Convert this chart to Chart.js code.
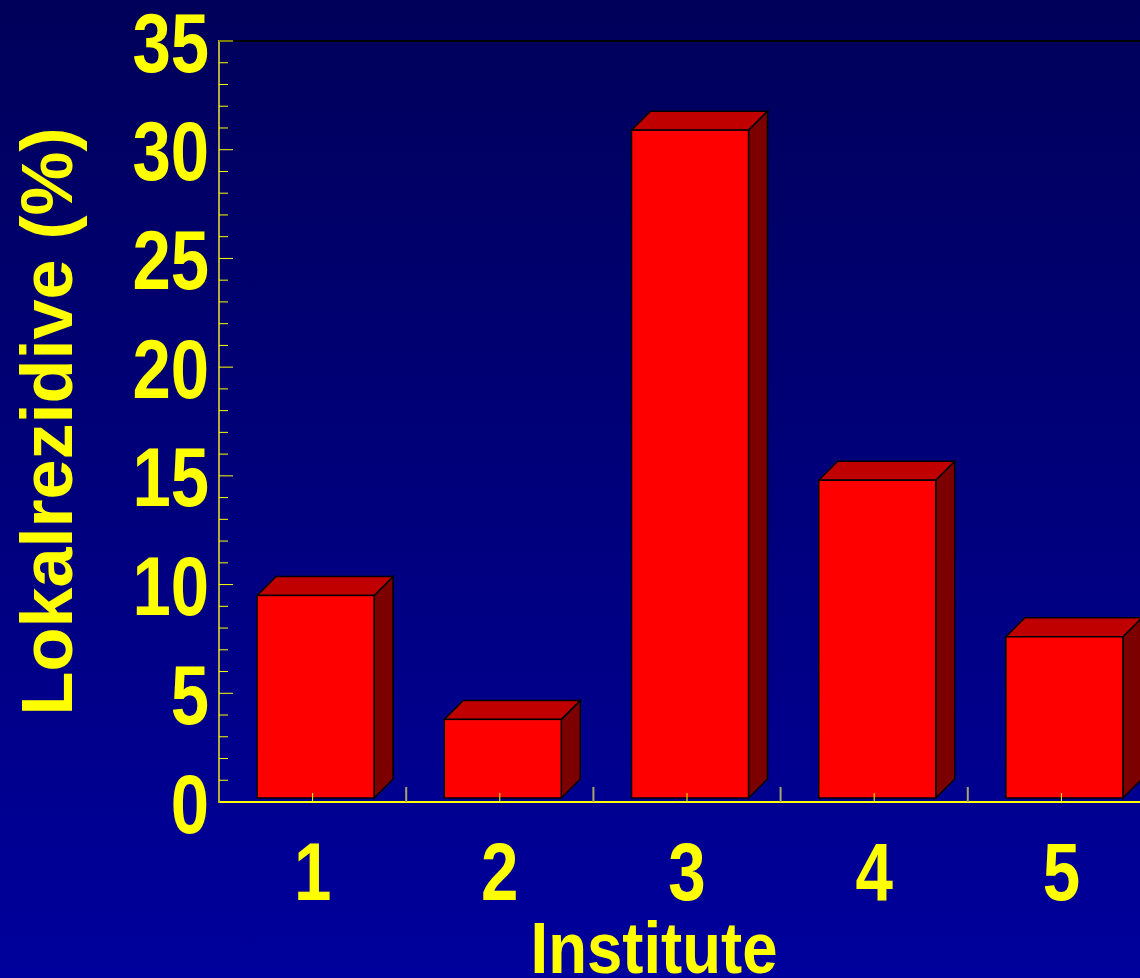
<!DOCTYPE html>
<html>
<head>
<meta charset="utf-8">
<script src="https://cdn.jsdelivr.net/npm/chart.js@4.4.1/dist/chart.umd.min.js"></script>
<style>
  html, body {
    margin: 0; padding: 0;
    width: 1140px; height: 978px; overflow: hidden;
    background: linear-gradient(to bottom, #00005a 0%, #00009c 100%);
  }
  #wrap { width: 1160px; height: 978px; }
</style>
</head>
<body>
<div id="wrap"><canvas id="chart" width="1160" height="978"></canvas></div>
<script>
// Local recurrence rate per institute
const categories = ['1', '2', '3', '4', '5'];
const recurrenceRates = [9.5, 3.8, 30.9, 14.8, 7.6];
const yTickValues = [0, 5, 10, 15, 20, 25, 30, 35];
const xAxisTitle = 'Institute';
const yAxisTitle = 'Lokalrezidive (%)';

const YELLOW = '#ffff00';
const FONT = '"Liberation Sans", Arial, Helvetica, sans-serif';

// Bold text squeezed horizontally (narrow sans look)
function condensedText(ctx, text, x, y, sx, align, size) {
  ctx.save();
  ctx.translate(x, y);
  ctx.scale(sx, 1);
  ctx.font = 'bold ' + size + 'px ' + FONT;
  ctx.textAlign = align;
  ctx.textBaseline = 'alphabetic';
  ctx.fillText(text, 0, 0);
  ctx.restore();
}

// Draws each bar as a box: front face, bevelled top and shaded right side
const bar3d = {
  id: 'bar3d',
  afterDatasetsDraw(chart, args, opts) {
    const ctx = chart.ctx;
    const meta = chart.getDatasetMeta(0);
    const d = opts.depth;
    meta.data.forEach(el => {
      const { x, y, base, width } = el.getProps(['x', 'y', 'base', 'width'], true);
      const l = x - width / 2 + opts.shift;
      const r = l + width;
      const t = y;
      const b = base - opts.lift;
      ctx.save();
      ctx.strokeStyle = '#000000';
      ctx.lineWidth = 1.5;
      ctx.lineJoin = 'miter';
      // right side
      ctx.beginPath();
      ctx.moveTo(r, t); ctx.lineTo(r + d, t - d); ctx.lineTo(r + d, b - d); ctx.lineTo(r, b);
      ctx.closePath();
      ctx.fillStyle = opts.sideColor; ctx.fill(); ctx.stroke();
      // top
      ctx.beginPath();
      ctx.moveTo(l, t); ctx.lineTo(l + d, t - d); ctx.lineTo(r + d, t - d); ctx.lineTo(r, t);
      ctx.closePath();
      ctx.fillStyle = opts.topColor; ctx.fill(); ctx.stroke();
      // front
      ctx.fillStyle = opts.frontColor;
      ctx.fillRect(l, t, width, b - t);
      ctx.strokeRect(l, t, width, b - t);
      ctx.restore();
    });
  }
};

// Frame line, inner tick marks, tick labels and the x axis title
const axisDecor = {
  id: 'axisDecor',
  afterDatasetsDraw(chart) {
    const ctx = chart.ctx;
    const area = chart.chartArea;
    const xs = chart.scales.x;
    const ys = chart.scales.y;
    ctx.save();
    // top frame line
    ctx.strokeStyle = '#000000';
    ctx.lineWidth = 2;
    ctx.beginPath();
    ctx.moveTo(area.left, area.top); ctx.lineTo(area.right, area.top);
    ctx.stroke();

    // y ticks: every unit, longer at labelled values
    ctx.strokeStyle = YELLOW;
    ctx.lineWidth = 1;
    for (let v = ys.min; v <= ys.max; v++) {
      const py = ys.getPixelForValue(v);
      const len = yTickValues.includes(v) ? 14 : 9;
      ctx.beginPath();
      ctx.moveTo(area.left, py); ctx.lineTo(area.left + len, py);
      ctx.stroke();
    }

    // x ticks: short ones at category centres, taller ones between categories
    const n = categories.length;
    for (let i = 0; i < n; i++) {
      const px = xs.getPixelForValue(i);
      ctx.strokeStyle = YELLOW;
      ctx.lineWidth = 1;
      ctx.beginPath();
      ctx.moveTo(px, area.bottom); ctx.lineTo(px, area.bottom - 9);
      ctx.stroke();
      if (i < n - 1) {
        const bx = (px + xs.getPixelForValue(i + 1)) / 2;
        ctx.strokeStyle = '#a8a468';
        ctx.lineWidth = 2;
        ctx.beginPath();
        ctx.moveTo(bx, area.bottom); ctx.lineTo(bx, area.bottom - 15);
        ctx.stroke();
      }
    }

    // tick labels
    ctx.fillStyle = YELLOW;
    ys.ticks.forEach(tk => {
      const py = ys.getPixelForValue(tk.value);
      condensedText(ctx, tk.label, area.left - 10, py + 30.5, 0.82, 'right', 84);
    });
    xs.ticks.forEach((tk, i) => {
      const px = xs.getPixelForValue(i);
      condensedText(ctx, tk.label, px, area.bottom + 97.5, 0.82, 'center', 82);
    });

    // x axis title
    const t = xs.options.title;
    ctx.fillStyle = t.color;
    condensedText(ctx, t.text, 654, 973, 0.87, 'center', 73);
    ctx.restore();
  }
};

new Chart(document.getElementById('chart'), {
  type: 'bar',
  data: {
    labels: categories,
    datasets: [{
      data: recurrenceRates,
      backgroundColor: 'rgba(0,0,0,0)',
      borderWidth: 0,
      categoryPercentage: 1,
      barPercentage: 0.625
    }]
  },
  options: {
    responsive: false,
    devicePixelRatio: 1,
    animation: false,
    events: [],
    layout: { padding: { top: 41, right: 5, left: 0, bottom: 0 } },
    plugins: {
      legend: { display: false },
      tooltip: { enabled: false },
      bar3d: { depth: 19, lift: 4, shift: 3, frontColor: '#ff0000', topColor: '#c00000', sideColor: '#7d0000' }
    },
    scales: {
      x: {
        grid: { display: false },
        border: { display: true, color: YELLOW, width: 2 },
        ticks: { display: false, autoSkip: false, maxRotation: 0 },
        title: { display: false, text: xAxisTitle, color: YELLOW },
        afterFit: s => { s.height = 176; }
      },
      y: {
        min: 0,
        max: 35,
        grid: { display: false },
        border: { display: true, color: '#b4ac3c', width: 2 },
        afterBuildTicks: s => { s.ticks = yTickValues.map(v => ({ value: v })); },
        ticks: { display: false, autoSkip: false },
        title: {
          display: true,
          text: yAxisTitle,
          color: YELLOW,
          padding: { top: 9, bottom: 0 },
          font: { family: FONT, size: 72, weight: 'bold' }
        },
        afterFit: s => { s.width = 219; }
      }
    }
  },
  plugins: [bar3d, axisDecor]
});
</script>
</body>
</html>
